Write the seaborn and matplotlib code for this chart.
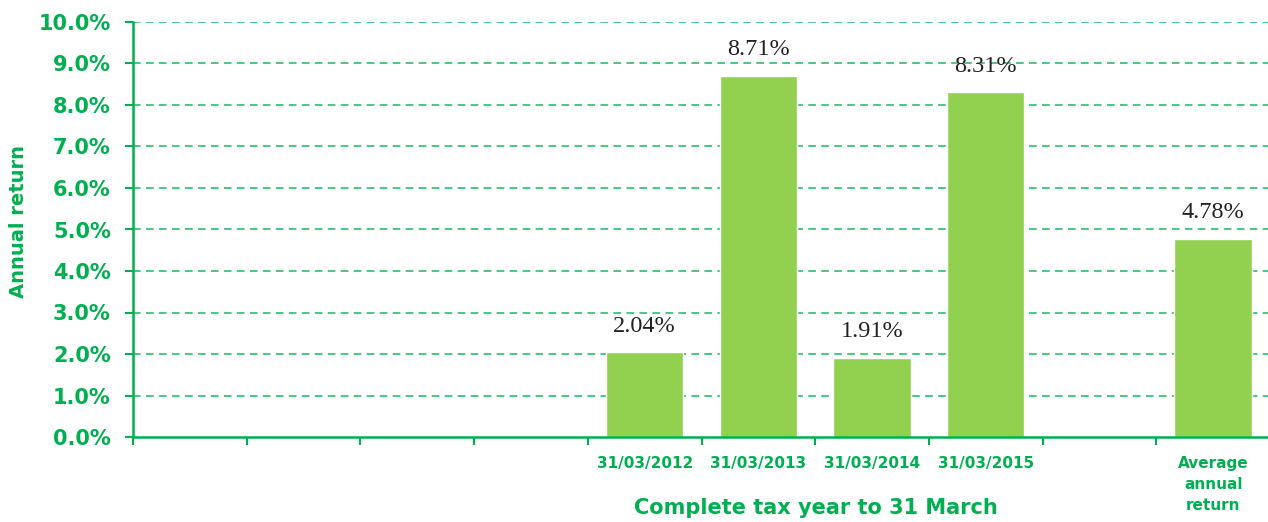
import numpy as np
import pandas as pd
import matplotlib
matplotlib.use("Agg")
import matplotlib.pyplot as plt
import seaborn as sns
from matplotlib.ticker import FixedLocator, FuncFormatter

# ---- data ----
tick_labels = ["", "", "", "", "31/03/2012", "31/03/2013", "31/03/2014",
               "31/03/2015", "", "Average\nannual\nreturn"]
returns = [np.nan, np.nan, np.nan, np.nan, 2.04, 8.71, 1.91, 8.31, np.nan, 4.78]
y_ticks = [0, 1, 2, 3, 4, 5, 6, 7, 8, 9, 10]

GREEN = "#00B050"
BAR = "#92D050"

sns.set_theme(style="white")
plt.rcParams["font.family"] = ["DejaVu Sans"]

slot_ids = [f"s{i}" for i in range(len(tick_labels))]
df = pd.DataFrame({"slot": slot_ids, "ret": returns})

fig = plt.figure(figsize=(12.68, 5.22), dpi=100)
ax = fig.add_axes([133 / 1268, 85 / 522, 1137 / 1268, 415 / 522])

sns.barplot(data=df.dropna(), x="slot", y="ret", order=slot_ids,
            color=BAR, saturation=1, width=0.68, ax=ax)

ax.set_xlim(-0.5, len(slot_ids) - 0.5)
ax.set_ylim(0, 10)
ax.set_yticks(y_ticks)
ax.yaxis.set_major_formatter(FuncFormatter(lambda v, p: f"{v:.1f}%"))

# grid
for v in y_ticks[1:]:
    ax.axhline(v, color=GREEN, lw=1.1, ls=(0, (5, 3.5)), alpha=0.9, zorder=0)

# spines
for s in ["top", "right"]:
    ax.spines[s].set_visible(False)
for s in ["left", "bottom"]:
    ax.spines[s].set_color(GREEN)
    ax.spines[s].set_linewidth(1.8)

# x ticks: labels at centers, tick marks at boundaries
ax.set_xticks(range(len(slot_ids)))
ax.set_xticklabels(tick_labels, fontsize=11, fontweight="bold", color=GREEN,
                   linespacing=1.5)
ax.tick_params(axis="x", which="major", length=0, pad=14)
ax.xaxis.set_minor_locator(FixedLocator(np.arange(-0.5, len(slot_ids) + 0.5, 1)))
ax.tick_params(axis="x", which="minor", length=6, width=1.5, color=GREEN,
               direction="out", bottom=True)
ax.tick_params(axis="y", length=6, width=1.5, color=GREEN, direction="out",
               left=True, labelsize=15, labelcolor=GREEN, pad=10)
for t in ax.get_yticklabels():
    t.set_fontweight("bold")
for t in ax.get_xticklabels():
    t.set_verticalalignment("top")

ax.set_xlabel("Complete tax year to 31 March", fontsize=15, fontweight="bold",
              color=GREEN)
ax.xaxis.label.set_verticalalignment("center")
ax.xaxis.set_label_coords((816 - 133) / 1137, (437 - 508) / 415)
ax.set_ylabel("Annual return", fontsize=14, fontweight="bold", color=GREEN)
ax.yaxis.set_label_coords((19 - 133) / 1137, 0.52)
ax.yaxis.label.set_verticalalignment("center")

# value labels
for cont in ax.containers:
    labels = [f"{v:.2f}%" if not np.isnan(v) else "" for v in cont.datavalues]
    ax.bar_label(cont, labels=labels, padding=11, fontsize=17.5,
                 family="Liberation Serif", color="#222222")

fig.savefig("out.png", dpi=100)
